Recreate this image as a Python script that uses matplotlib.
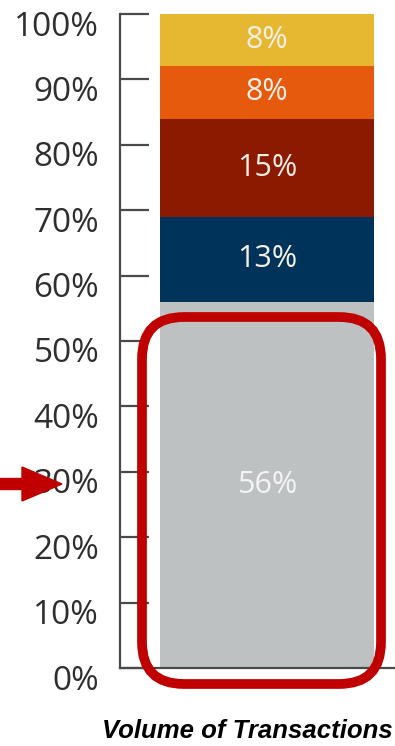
import matplotlib
matplotlib.use("Agg")
import matplotlib.pyplot as plt
import matplotlib.transforms as mtransforms
from matplotlib.patches import FancyBboxPatch, FancyArrow

# Stacked share of transaction volume (bottom to top)
segment_values = [56, 13, 15, 8, 8]
segment_labels = ["56%", "13%", "15%", "8%", "8%"]
segment_colors = ["#BEC1C2", "#00335A", "#8B1A00", "#E65A0E", "#E6B832"]
label_colors = ["#F4F4F4", "#F5EFE6", "#F5EFE6", "#F5EFE6", "#F5EFE6"]
y_ticks = [0, 10, 20, 30, 40, 50, 60, 70, 80, 90, 100]
y_tick_labels = [f"{t}%" for t in y_ticks]
title = "Volume of Transactions"

W, H = 395, 746
fig = plt.figure(figsize=(W / 100, H / 100), dpi=100)
fig.patch.set_facecolor("white")

# Main axes placed in pixel units
ax_left, ax_right, ax_top, ax_bottom = 120, 395, 14, 668
ax = fig.add_axes([ax_left / W, (H - ax_bottom) / H,
                   (ax_right - ax_left) / W, (ax_bottom - ax_top) / H])
ax.set_xlim(0, 1)
ax.set_ylim(0, 100)

bar_x0 = (160 - ax_left) / (ax_right - ax_left)
bar_w = (374 - 160) / (ax_right - ax_left)
bottom = 0
for v, lab, c, lc in zip(segment_values, segment_labels, segment_colors, label_colors):
    ax.bar(bar_x0, v, width=bar_w, bottom=bottom, color=c, align="edge",
           edgecolor="none", zorder=2)
    ax.text(bar_x0 + bar_w / 2, bottom + v / 2, lab, ha="center", va="center",
            color=lc, fontsize=22, family="Open Sans", zorder=3)
    bottom += v

for s in ["top", "right"]:
    ax.spines[s].set_visible(False)
for s in ["left", "bottom"]:
    ax.spines[s].set_color("#4A4A4A")
    ax.spines[s].set_linewidth(1.6)
ax.set_xticks([])
ax.set_yticks(y_ticks)
ax.set_yticklabels(y_tick_labels, family="Open Sans", fontsize=24, color="#2E2E2E")
ax.tick_params(axis="y", direction="in", length=21, width=1.6, color="#4A4A4A", pad=15)
ax.set_facecolor("none")

# Labels sit slightly below their tick marks
shift = mtransforms.ScaledTranslation(0, -9 / 100, fig.dpi_scale_trans)
for lbl in ax.get_yticklabels():
    lbl.set_transform(lbl.get_transform() + shift)

# Overlay in pixel coordinates for the highlight box, arrow and caption
ov = fig.add_axes([0, 0, 1, 1])
ov.set_xlim(0, W)
ov.set_ylim(H, 0)
ov.axis("off")
ov.patch.set_alpha(0)

box = FancyBboxPatch((142, 317), 239, 367,
                     boxstyle="round,pad=0,rounding_size=42",
                     facecolor="none", edgecolor="#C00000", linewidth=7,
                     zorder=5)
ov.add_patch(box)

arrow = FancyArrow(0, 484, 62, 0, width=11, head_width=34, head_length=40,
                   length_includes_head=True, color="#C00000", zorder=5)
ov.add_patch(arrow)

ov.text(247, 731, title, ha="center", va="center", fontsize=18.5,
        fontweight="bold", fontstyle="italic", family="Liberation Sans",
        color="black")

fig.savefig("out.png", dpi=100)
